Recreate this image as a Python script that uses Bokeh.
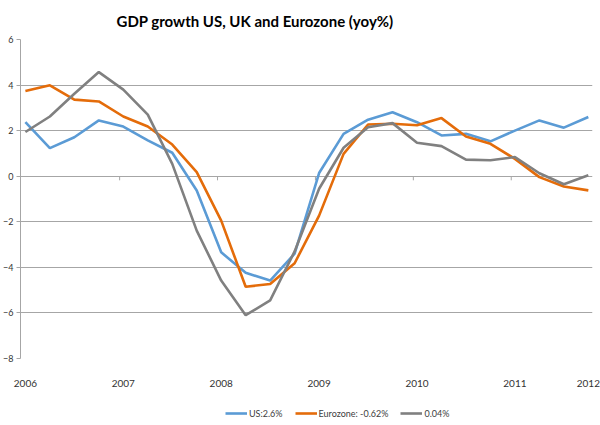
from bokeh.plotting import figure
from bokeh.models import (Range1d, FixedTicker, Legend, LegendItem,
                          ColumnDataSource)
from bokeh.layouts import column
from bokeh.embed import file_html
from bokeh.resources import INLINE

# ---------------- data ----------------
quarter_index = list(range(24))
us_growth = [2.37, 1.23, 1.71, 2.45, 2.18, 1.57, 1.03, -0.63, -3.34, -4.24, -4.58, -3.40,
             0.14, 1.86, 2.48, 2.81, 2.37, 1.79, 1.86, 1.53, 2.00, 2.45, 2.13, 2.60]
euro_growth = [3.74, 3.99, 3.36, 3.28, 2.62, 2.18, 1.39, 0.18, -1.95, -4.85, -4.73, -3.82,
               -1.73, 0.98, 2.27, 2.30, 2.24, 2.55, 1.74, 1.42, 0.76, -0.04, -0.45, -0.62]
uk_growth = [1.94, 2.62, 3.62, 4.57, 3.80, 2.70, 0.54, -2.39, -4.58, -6.10, -5.45, -3.30,
             -0.55, 1.25, 2.15, 2.33, 1.47, 1.32, 0.73, 0.70, 0.84, 0.13, -0.35, 0.04]
year_labels = ["2006", "2007", "2008", "2009", "2010", "2011", "2012"]
year_label_positions = [0, 4, 8, 12, 16, 20, 23]
zero_axis_ticks = [3.85, 7.85, 11.85, 15.85, 19.85]
y_ticks = [-8, -6, -4, -2, 0, 2, 4, 6]
series_names = ["US:2.6%", "Eurozone: -0.62%", "0.04%"]
series_colors = ["#5b9bd5", "#e46c0a", "#808080"]

FONT = "Lato"

src = ColumnDataSource(dict(x=quarter_index, us=us_growth, eu=euro_growth, uk=uk_growth))

# ---------------- main chart ----------------
p = figure(width=600, height=400, output_backend="svg", toolbar_location=None,
           x_range=Range1d(-0.2, 23.17), y_range=Range1d(-8, 6),
           min_border_left=0, min_border_right=8, min_border_top=39,
           min_border_bottom=42)
p.outline_line_color = None
p.background_fill_color = "white"
p.border_fill_color = "white"

p.title.text = "GDP growth US, UK and Eurozone (yoy%)"
p.title.text_font = FONT
p.title.text_font_size = "15px"
p.title.text_font_style = "bold"
p.title.text_color = "#000000"
p.title.align = "left"
p.title.offset = 96
p.title.standoff = 19

p.xgrid.grid_line_color = None
p.ygrid.ticker = FixedTicker(ticks=y_ticks)
p.ygrid.grid_line_color = "#a6a6a6"
p.ygrid.grid_line_width = 1

p.yaxis.ticker = FixedTicker(ticks=y_ticks)
p.yaxis.axis_line_color = "#a6a6a6"
p.yaxis.major_tick_line_color = "#a6a6a6"
p.yaxis.major_tick_out = 4
p.yaxis.major_tick_in = 0
p.yaxis.minor_tick_line_color = None
p.yaxis.major_label_standoff = 3
p.yaxis.major_label_text_font = FONT
p.yaxis.major_label_text_font_size = "9px"
p.yaxis.major_label_text_color = "#333333"

p.xaxis.ticker = FixedTicker(ticks=year_label_positions)
p.xaxis.major_label_overrides = {pos: lab for pos, lab in zip(year_label_positions, year_labels)}
p.xaxis.axis_line_color = None
p.xaxis.major_tick_line_color = None
p.xaxis.minor_tick_line_color = None
p.xaxis.major_label_standoff = 15
p.xaxis.major_label_text_font = FONT
p.xaxis.major_label_text_font_size = "10px"
p.xaxis.major_label_text_color = "#333333"

# small tick marks on the zero line (category boundaries)
p.segment(x0=zero_axis_ticks, x1=zero_axis_ticks, y0=[0] * len(zero_axis_ticks),
          y1=[-0.18] * len(zero_axis_ticks), line_color="#a6a6a6", line_width=1)

p.line("x", "us", source=src, line_color=series_colors[0], line_width=2.6)
p.line("x", "eu", source=src, line_color=series_colors[1], line_width=2.6)
p.line("x", "uk", source=src, line_color=series_colors[2], line_width=2.6)

# ---------------- legend strip ----------------
lf = figure(width=600, height=25, output_backend="svg", toolbar_location=None,
            x_range=Range1d(1000, 1001), y_range=Range1d(1000, 1001),
            x_axis_location=None, y_axis_location=None,
            min_border_left=0, min_border_right=0, min_border_top=0, min_border_bottom=0)
lf.outline_line_color = None
lf.xgrid.grid_line_color = None
lf.ygrid.grid_line_color = None
lf.border_fill_color = "white"
l_us = lf.line("x", "us", source=src, line_color=series_colors[0], line_width=2.6)
l_eu = lf.line("x", "eu", source=src, line_color=series_colors[1], line_width=2.6)
l_uk = lf.line("x", "uk", source=src, line_color=series_colors[2], line_width=2.6)

legend = Legend(items=[LegendItem(label=series_names[0], renderers=[l_us]),
                       LegendItem(label=series_names[1], renderers=[l_eu]),
                       LegendItem(label=series_names[2], renderers=[l_uk])],
                orientation="horizontal", location=(205, 5))
legend.margin = 0
legend.padding = 0
legend.spacing = 12
legend.glyph_width = 22
legend.glyph_height = 14
legend.label_standoff = 2
legend.label_text_font = FONT
legend.label_text_font_size = "9px"
legend.label_text_color = "#404040"
legend.border_line_color = None
legend.background_fill_alpha = 0
lf.add_layout(legend)

layout = column(p, lf, spacing=0)
open("out.html", "w").write(file_html(layout, INLINE))
